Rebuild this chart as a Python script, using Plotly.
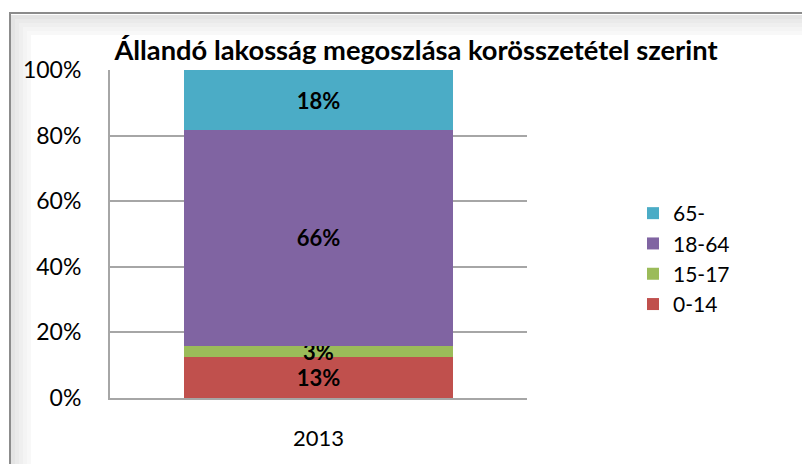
import plotly.graph_objects as go

categories = ["2013"]
series_names = ["0-14", "15-17", "18-64", "65-"]
series_values = [[12.6], [3.4], [65.6], [18.4]]
series_colors = ["#C0504D", "#9BBB59", "#8064A2", "#4BACC6"]
y_ticks = [0, 20, 40, 60, 80, 100]
y_tick_labels = ["0%", "20%", "40%", "60%", "80%", "100%"]
title_text = "Állandó lakosság megoszlása korösszetétel szerint"

FONT = "Lato, Calibri, sans-serif"

# page body has an 8px margin: work in page pixels, convert to figure pixels
OFF = 8
W, H = 810 - OFF, 464 - OFF
L, R, T, B = 110 - OFF, 527 - OFF, 70 - OFF, 398 - OFF

def px(x):
    return (x - OFF - L) / (R - L)
def py(y):
    return (B - (y - OFF)) / (B - T)

fig = go.Figure()
for name, vals, col in zip(series_names, series_values, series_colors):
    fig.add_trace(go.Bar(
        x=categories, y=vals, name=name, marker=dict(color=col, line=dict(width=0)),
        text=vals, texttemplate="%{y:.0f}%", textposition="inside",
        insidetextanchor="middle",
        textfont=dict(family=FONT, size=22, color="black", weight="bold"),
        hoverinfo="skip",
    ))

shapes = []
# soft inner shadow of frame
for i, c in enumerate(["#e4e4e4", "#eaeaea", "#efefef", "#f4f4f4", "#f8f8f8"]):
    o = 3 + i * 4
    shapes.append(dict(type="rect", xref="paper", yref="paper",
                       x0=px(10 + o), x1=px(840), y0=py(490), y1=py(14 + o),
                       line=dict(color=c, width=4), layer="below"))
shapes.append(dict(type="rect", xref="paper", yref="paper",
                   x0=px(10), x1=px(840), y0=py(490), y1=py(13),
                   line=dict(color="#8c8c8c", width=2), layer="below"))

fig.update_layout(
    width=W, height=H,
    margin=dict(l=L, r=W - R, t=T, b=H - B),
    paper_bgcolor="white", plot_bgcolor="white",
    barmode="stack", bargap=0.357,
    uniformtext=dict(minsize=22, mode="show"),
    font=dict(family=FONT, size=22, color="black"),
    title=dict(text="<b>" + title_text + "</b>", x=(416 - OFF) / W, xanchor="center",
               y=1 - (50 - OFF) / H, yanchor="middle",
               font=dict(family=FONT, size=27.3, color="black")),
    showlegend=True,
    legend=dict(x=px(633), xanchor="left", y=py(193), yanchor="top",
                traceorder="reversed", font=dict(family=FONT, size=21),
                itemwidth=30, tracegroupgap=0, bgcolor="rgba(0,0,0,0)"),
    xaxis=dict(showgrid=False, showline=True, linecolor="#a6a6a6", linewidth=2,
               ticks="", tickfont=dict(size=22), ticklabelstandoff=20,
               fixedrange=True),
    yaxis=dict(range=[0, 100], tickvals=y_ticks, ticktext=y_tick_labels,
               showgrid=True, gridcolor="#a6a6a6", gridwidth=2,
               showline=True, linecolor="#a6a6a6", linewidth=2,
               ticks="", tickfont=dict(size=23), ticklabelstandoff=22,
               zeroline=False, fixedrange=True),
    shapes=shapes,
)

fig.write_html("out.html")
